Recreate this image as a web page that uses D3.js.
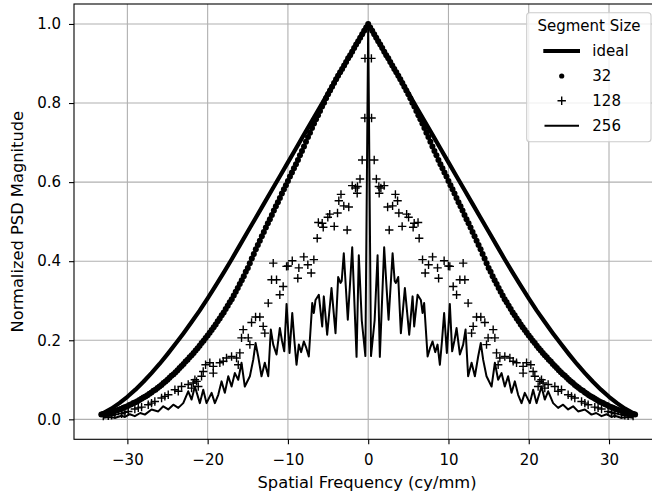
<!DOCTYPE html>
<html>
<head>
<meta charset="utf-8">
<script src="https://cdn.jsdelivr.net/npm/d3@7"></script>
<style>
  body { margin: 0; background: #fff; }
  text { font-family: "DejaVu Sans", sans-serif; fill: #000; }
</style>
</head>
<body>
<div id="chart"></div>
<script>
// positive-frequency halves; the PSD of a real image is symmetric, so the
// negative side is built by reflecting these values
const freqIdeal = [0,1,2,3,4,5,6,7,8,9,10,11,12,13,14,15,16,17,18,19,20,21,22,23,24,25,26,27,28,29,30,31,32,33,33.33];
const psdIdeal = [1.0,0.965,0.93,0.895,0.86,0.825,0.79,0.755,0.72,0.685,0.65,0.615,0.58,0.545,0.51,0.475,0.44,0.405,0.371,0.338,0.306,0.275,0.246,0.218,0.191,0.165,0.14,0.117,0.095,0.075,0.057,0.041,0.027,0.016,0.013];

const freq32 = [0,0.25,0.5,0.75,1,1.25,1.5,1.75,2,2.25,2.5,2.75,3,3.25,3.5,3.75,4,4.25,4.5,4.75,
  5,5.25,5.5,5.75,6,6.25,6.5,6.75,7,7.25,7.5,7.75,8,8.25,8.5,8.75,9,9.25,9.5,9.75,
  10,10.25,10.5,10.75,11,11.25,11.5,11.75,12,12.25,12.5,12.75,13,13.25,13.5,13.75,14,14.25,14.5,14.75,
  15,15.25,15.5,15.75,16,16.25,16.5,16.75,17,17.25,17.5,17.75,18,18.25,18.5,18.75,19,19.25,19.5,19.75,
  20,20.25,20.5,20.75,21,21.25,21.5,21.75,22,22.25,22.5,22.75,23,23.25,23.5,23.75,24,24.25,24.5,24.75,
  25,25.25,25.5,25.75,26,26.25,26.5,26.75,27,27.25,27.5,27.75,28,28.25,28.5,28.75,29,29.25,29.5,29.75,
  30,30.25,30.5,30.75,31,31.25,31.5,31.75,32,32.25,32.5,32.75,33,33.25];
const psd32 = [1.0,0.991,0.983,0.974,0.965,0.956,0.948,0.939,0.93,0.921,0.913,0.904,0.895,0.886,0.878,0.869,0.86,0.851,0.841,0.832,
  0.822,0.812,0.801,0.791,0.78,0.769,0.759,0.748,0.737,0.725,0.714,0.702,0.69,0.679,0.668,0.656,0.645,0.635,0.624,0.614,
  0.603,0.592,0.582,0.571,0.56,0.549,0.539,0.528,0.517,0.506,0.496,0.485,0.474,0.463,0.452,0.441,0.43,0.418,0.407,0.395,
  0.383,0.373,0.362,0.352,0.342,0.332,0.323,0.313,0.304,0.296,0.287,0.279,0.27,0.263,0.255,0.248,0.24,0.233,0.226,0.219,
  0.212,0.206,0.199,0.193,0.186,0.18,0.174,0.168,0.162,0.157,0.151,0.146,0.14,0.135,0.13,0.124,0.119,0.114,0.11,0.105,
  0.1,0.096,0.092,0.087,0.083,0.079,0.075,0.072,0.068,0.065,0.061,0.058,0.055,0.052,0.049,0.046,0.043,0.041,0.038,0.036,
  0.033,0.031,0.029,0.027,0.025,0.023,0.021,0.02,0.018,0.017,0.016,0.014,0.013,0.012];

const freq128 = [0.40,0.42,0.75,1.02,1.33,1.58,1.37,1.99,3.39,3.66,2.42,3.04,3.82,4.79,5.03,4.23,2.62,5.73,6.21,5.60,
  6.35,6.77,8.02,7.52,7.10,8.64,8.77,9.46,9.99,10.17,11.83,10.59,11.01,11.42,12.04,12.45,13.50,14.03,13.08,12.88,
  14.53,15.57,14.94,15.78,14.74,15.99,16.40,17.02,17.65,16.19,18.06,18.48,19.30,19.73,20.26,19.30,20.55,20.76,21.38,21.79,
  21.17,21.59,22.42,23.25,24.08,24.91,25.74,26.58,27.40,28.23,29.07,29.89,30.72,31.56,32.38,33.00,
  22.00,23.66,25.33,26.99,28.64,30.31,31.97];
const psd128 = [0.913,0.762,0.656,0.608,0.589,0.585,0.572,0.591,0.569,0.553,0.537,0.540,0.522,0.519,0.511,0.488,0.479,0.496,0.498,0.486,
  0.458,0.404,0.411,0.391,0.370,0.383,0.357,0.401,0.388,0.387,0.395,0.336,0.315,0.353,0.353,0.294,0.259,0.259,0.235,0.218,
  0.245,0.227,0.206,0.206,0.189,0.168,0.155,0.159,0.155,0.138,0.147,0.143,0.134,0.143,0.138,0.117,0.121,0.109,0.096,0.092,
  0.083,0.100,0.088,0.083,0.075,0.062,0.054,0.045,0.037,0.031,0.026,0.020,0.014,0.012,0.009,0.008,
  0.079,0.071,0.058,0.041,0.029,0.018,0.010];

const freq256 = [0,0.35,0.8,1.17,1.45,1.99,2.3,2.54,3.04,3.3,3.45,3.74,4.07,4.57,5.11,5.53,5.73,6.15,6.56,6.77,
  6.97,7.4,7.7,8.02,8.35,8.64,8.93,9.2,9.46,9.8,10.17,10.46,10.75,11.01,11.42,11.83,12.13,12.45,12.88,13.29,
  13.7,14.03,14.32,14.74,15.37,15.78,16.19,16.61,17.02,17.43,17.86,18.27,18.68,19.1,19.51,20.14,20.55,20.97,21.59,22.0,
  22.42,23.04,23.66,24.28,24.91,25.53,26.15,26.99,27.82,28.4,29.07,29.7,30.3,30.72,31.5,32.38,33.0];
const psd256 = [1.0,0.16,0.25,0.415,0.158,0.435,0.33,0.252,0.42,0.35,0.345,0.36,0.218,0.332,0.214,0.311,0.235,0.315,0.302,0.269,
  0.294,0.159,0.18,0.197,0.17,0.189,0.138,0.2,0.269,0.168,0.292,0.172,0.2,0.231,0.164,0.189,0.227,0.109,0.143,0.109,
  0.159,0.193,0.151,0.109,0.083,0.143,0.1,0.117,0.083,0.109,0.067,0.096,0.062,0.041,0.067,0.041,0.075,0.041,0.083,0.05,
  0.071,0.041,0.029,0.037,0.025,0.033,0.02,0.025,0.012,0.016,0.008,0.013,0.006,0.009,0.004,0.006,0.004];

const xTicks = [-30, -20, -10, 0, 10, 20, 30];
const yTicks = [0.0, 0.2, 0.4, 0.6, 0.8, 1.0];
const legendLabels = ['ideal', '32', '128', '256'];

function mirror(fs, vs) {
    const pts = [];
    for (let i = fs.length - 1; i >= 0; i--) {
        if (fs[i] !== 0) pts.push({f: -fs[i], v: vs[i]});
    }
    fs.forEach((f, i) => pts.push({f: f, v: vs[i]}));
    return pts;
}

const width = 652, height = 495;
const svg = d3.select('#chart').append('svg')
    .attr('width', width)
    .attr('height', height);

const x = d3.scaleLinear().domain([-36.65, 36.39]).range([74, 660.3]);
const y = d3.scaleLinear().domain([-0.0505, 1.0505]).range([439.3, 4]);

// grid
svg.append('g').selectAll('line').data(xTicks).join('line')
    .attr('x1', d => x(d)).attr('x2', d => x(d))
    .attr('y1', y.range()[0]).attr('y2', y.range()[1])
    .attr('stroke', '#b0b0b0').attr('stroke-width', 1.1);
svg.append('g').selectAll('line').data(yTicks).join('line')
    .attr('x1', 74).attr('x2', 660.3)
    .attr('y1', d => y(d)).attr('y2', d => y(d))
    .attr('stroke', '#b0b0b0').attr('stroke-width', 1.1);

svg.append('clipPath').attr('id', 'clip')
    .append('rect').attr('x', 74).attr('y', 4).attr('width', 586.3).attr('height', 435.3);
const plot = svg.append('g').attr('clip-path', 'url(#clip)');

const line = d3.line().x(d => x(d.f)).y(d => y(d.v));

plot.append('path')
    .datum(mirror(freqIdeal, psdIdeal))
    .attr('d', line)
    .attr('fill', 'none').attr('stroke', '#000').attr('stroke-width', 4.2)
    .attr('stroke-linejoin', 'round');

plot.append('g').selectAll('circle')
    .data(mirror(freq32, psd32))
    .join('circle')
        .attr('cx', d => x(d.f))
        .attr('cy', d => y(d.v))
        .attr('r', 3)
        .attr('fill', '#000');

const cross = d3.symbol().type(d3.symbolCross);
plot.append('g').selectAll('path')
    .data(mirror(freq128, psd128))
    .join('path')
        .attr('transform', d => `translate(${x(d.f)},${y(d.v)})`)
        .attr('d', 'M-4.2,0H4.2M0,-4.2V4.2')
        .attr('stroke', '#000').attr('stroke-width', 1.4).attr('fill', 'none');

plot.append('path')
    .datum(mirror(freq256, psd256))
    .attr('d', line)
    .attr('fill', 'none').attr('stroke', '#000').attr('stroke-width', 2)
    .attr('stroke-linejoin', 'round');

// axes
const xAxis = svg.append('g')
    .attr('transform', 'translate(0,439.3)')
    .call(d3.axisBottom(x).tickValues(xTicks).tickSize(5).tickPadding(10).tickSizeOuter(0));
const yAxis = svg.append('g')
    .attr('transform', 'translate(74,0)')
    .call(d3.axisLeft(y).tickValues(yTicks).tickFormat(d3.format('.1f')).tickSize(5).tickPadding(8).tickSizeOuter(0));
[xAxis, yAxis].forEach(a => {
    a.select('.domain').remove();
    a.selectAll('text').attr('font-size', 15).attr('font-family', '"DejaVu Sans", sans-serif').attr('fill', '#000');
    a.selectAll('line').attr('stroke', '#000').attr('stroke-width', 1.1);
});

// spines
svg.append('rect')
    .attr('x', 74).attr('y', 4).attr('width', 586.3).attr('height', 435.3)
    .attr('fill', 'none').attr('stroke', '#000').attr('stroke-width', 1.1);

svg.append('text')
    .attr('x', 367).attr('y', 488)
    .attr('text-anchor', 'middle').attr('font-size', 16.3)
    .text('Spatial Frequency (cy/mm)');

svg.append('text')
    .attr('transform', 'translate(23,221.7) rotate(-90)')
    .attr('text-anchor', 'middle').attr('font-size', 16.3)
    .text('Normalized PSD Magnitude');

// legend
const legend = svg.append('g');
legend.append('rect')
    .attr('x', 526.7).attr('y', 12.7).attr('width', 124.3).attr('height', 129).attr('rx', 3)
    .attr('fill', '#fff').attr('fill-opacity', 0.8).attr('stroke', '#cccccc').attr('stroke-width', 1.1);
legend.append('text')
    .attr('x', 589).attr('y', 31).attr('text-anchor', 'middle').attr('font-size', 15)
    .text('Segment Size');
const rowY = [51, 76, 100.7, 125.7];
legend.selectAll('.lbl').data(legendLabels).join('text')
    .attr('class', 'lbl')
    .attr('x', 592.3).attr('y', (d, i) => rowY[i] + 5.4)
    .attr('font-size', 15)
    .text(d => d);
legend.append('line').attr('x1', 543.3).attr('x2', 580).attr('y1', rowY[0]).attr('y2', rowY[0])
    .attr('stroke', '#000').attr('stroke-width', 4.2);
legend.append('circle').attr('cx', 561.7).attr('cy', rowY[1]).attr('r', 2.6).attr('fill', '#000');
legend.append('path').attr('transform', `translate(561.7,${rowY[2]})`)
    .attr('d', 'M-4.2,0H4.2M0,-4.2V4.2').attr('stroke', '#000').attr('stroke-width', 1.4);
legend.append('line').attr('x1', 544.5).attr('x2', 579).attr('y1', rowY[3]).attr('y2', rowY[3])
    .attr('stroke', '#000').attr('stroke-width', 2);
</script>
</body>
</html>
